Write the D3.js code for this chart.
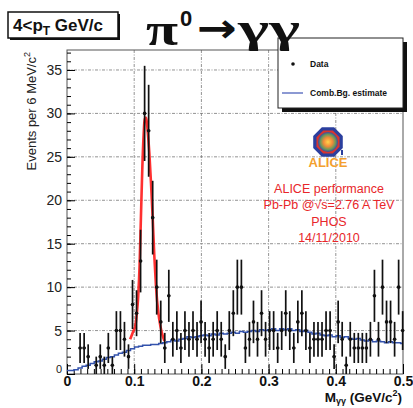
<!DOCTYPE html>
<html>
<head>
<meta charset="utf-8">
<script src="https://cdn.jsdelivr.net/npm/d3@7"></script>
<style>
  body { margin: 0; background: #fff; }
  svg { display: block; }
</style>
</head>
<body>
<div id="chart"></div>
<script>
// histogram of counts, 6 MeV bins (zero bins are not drawn)
var binStart = 0.0045, binWidth = 0.006;
var counts = [0, 0, 3, 3, 2, 0, 1, 2, 1, 3, 1, 5, 5, 4, 2, 8, 7, 13, 30, 28,
  18, 10, 6, 3, 9, 4, 5, 3, 5, 4, 5, 4, 6, 4, 3, 4, 5, 4, 2, 5,
  7, 10, 10, 3, 4, 6, 4, 7, 4, 5, 5, 3, 5, 7, 5, 3, 6, 7, 5, 3,
  4, 4, 4, 5, 5, 2, 6, 4, 1, 4, 3, 3, 3, 3, 4, 9, 4, 10, 6, 6,
  4, 10, 5];
// combinatorial background estimate, same bins
var bgEstimate = [0.4, 0.5, 0.7, 0.9, 1.0, 1.2, 1.4, 1.5, 1.7, 1.9, 2.0, 2.2, 2.4, 2.5, 2.7, 2.9, 3.1, 3.2, 3.3, 3.3,
  3.4, 3.4, 3.5, 3.6, 3.7, 3.9, 3.8, 4.0, 4.1, 4.3, 4.2, 4.3, 4.4, 4.5, 4.4, 4.6, 4.5, 4.7, 4.6, 4.7,
  4.8, 4.7, 4.9, 4.8, 4.9, 5.0, 4.9, 5.1, 5.0, 5.1, 5.2, 5.0, 5.2, 5.1, 5.2, 5.0, 5.1, 4.9, 5.0, 4.8,
  4.6, 4.7, 4.5, 4.4, 4.5, 4.3, 4.4, 4.2, 4.3, 4.1, 4.0, 4.1, 3.9, 3.8, 3.9, 3.7, 3.8, 3.7, 3.6, 3.7,
  3.6, 3.6, 3.5];
// peak fit curve
var fitX = [0.094, 0.098, 0.1015, 0.104, 0.106, 0.108, 0.110, 0.112, 0.114, 0.116, 0.118,
  0.120, 0.1225, 0.125, 0.1275, 0.130, 0.1325, 0.136, 0.139, 0.142, 0.145];
var fitY = [4.0, 4.8, 5.5, 7.0, 9.0, 12.5, 18.0, 23.5, 27.5, 29.5, 29.5,
  28.0, 25.5, 22.0, 18.0, 13.5, 10.0, 7.0, 5.5, 4.5, 3.8];
var xTicks = [0, 0.1, 0.2, 0.3, 0.4, 0.5];
var yTicks = [0, 5, 10, 15, 20, 25, 30, 35];
var infoLines = ["ALICE performance", "Pb-Pb @\u221As=2.76 A TeV", "PHOS", "14/11/2010"];

var W = 413, H = 408;
var pad = {left: 67, right: 403, top: 50, bottom: 374};

var svg = d3.select("#chart").append("svg")
  .attr("width", W).attr("height", H)
  .style("font-family", "'Liberation Sans', Arial, sans-serif");

var x = d3.scaleLinear().domain([0, 0.5]).range([pad.left, pad.right]);
var y = d3.scaleLinear().domain([0, 37.3]).range([pad.bottom, pad.top]);

// grid
var grid = svg.append("g").attr("stroke", "#777").attr("stroke-width", 0.8)
  .attr("stroke-dasharray", "3,1.5,1,1.5");
xTicks.slice(1, -1).forEach(function(t) {
  grid.append("line").attr("x1", x(t)).attr("x2", x(t)).attr("y1", pad.top).attr("y2", pad.bottom);
});
yTicks.slice(1).forEach(function(t) {
  grid.append("line").attr("x1", pad.left).attr("x2", pad.right).attr("y1", y(t)).attr("y2", y(t));
});

// frame
svg.append("rect").attr("x", pad.left).attr("y", pad.top)
  .attr("width", pad.right - pad.left).attr("height", pad.bottom - pad.top)
  .attr("fill", "none").attr("stroke", "#555").attr("stroke-width", 1);

// axes
var yMinor = d3.range(0, 38, 1);
svg.append("g").attr("transform", "translate(" + pad.left + ",0)")
  .call(d3.axisLeft(y).tickValues(yMinor).tickSize(-4).tickFormat(""))
  .call(function(g) { g.select(".domain").remove(); });
svg.append("g").attr("transform", "translate(" + pad.left + ",0)")
  .call(d3.axisLeft(y).tickValues(yTicks).tickSize(-8).tickPadding(5))
  .call(function(g) {
    g.select(".domain").remove();
    g.selectAll("text").attr("font-size", 14).attr("fill", "#222")
      .attr("font-family", "'Liberation Sans', Arial, sans-serif");
    g.selectAll("text").filter(function(d) { return d === 0; })
      .attr("font-size", 11).attr("dy", "-0.1em");
  });

var xMinor = d3.range(0, 0.501, 0.01);
svg.append("g").attr("transform", "translate(0," + pad.bottom + ")")
  .call(d3.axisBottom(x).tickValues(xMinor).tickSize(-5).tickFormat(""))
  .call(function(g) { g.select(".domain").remove(); });
svg.append("g").attr("transform", "translate(0," + pad.bottom + ")")
  .call(d3.axisBottom(x).tickValues(xTicks).tickSize(-10).tickPadding(2)
    .tickFormat(function(d) { return d === 0 ? "0" : d3.format(".1f")(d); }))
  .call(function(g) {
    g.select(".domain").remove();
    g.selectAll("text").attr("font-size", 14).attr("font-weight", "bold").attr("fill", "#111")
      .attr("font-family", "'Liberation Sans', Arial, sans-serif");
  });

// axis titles
var xt = svg.append("text").attr("x", 402).attr("y", 402).attr("text-anchor", "end")
  .attr("font-size", 13.5).attr("font-weight", "bold").attr("fill", "#111");
xt.append("tspan").text("M");
xt.append("tspan").attr("font-size", 9).attr("dy", 2).text("\u03B3\u03B3");
xt.append("tspan").attr("dy", -2).text(" (GeV/c");
xt.append("tspan").attr("font-size", 9).attr("dy", -6).text("2");
xt.append("tspan").attr("dy", 6).text(")");

var yt = svg.append("text").attr("transform", "translate(36,52) rotate(-90)")
  .attr("text-anchor", "end").attr("font-size", 13).attr("fill", "#222");
yt.append("tspan").text("Events per 6 MeV/c");
yt.append("tspan").attr("font-size", 9).attr("dy", -6).text("2");

// background estimate (step line)
var edges = counts.map(function(c, i) { return binStart + binWidth * i; });
var stepPts = bgEstimate.map(function(v, i) { return [edges[i], v]; });
stepPts.unshift([0, bgEstimate[0]]);
stepPts.push([binStart + binWidth * counts.length, bgEstimate[bgEstimate.length - 1]]);
svg.append("path").datum(stepPts)
  .attr("fill", "none").attr("stroke", "#3352ac").attr("stroke-width", 1.5)
  .attr("d", d3.line().curve(d3.curveStepAfter)
    .x(function(d) { return x(Math.min(d[0], 0.5)); }).y(function(d) { return y(d[1]); }));

// fit
var fitPts = fitX.map(function(v, i) { return [v, fitY[i]]; });
svg.append("path").datum(fitPts)
  .attr("fill", "none").attr("stroke", "#ff1a1a").attr("stroke-width", 2.6)
  .attr("stroke-linejoin", "round").attr("opacity", 0.9)
  .attr("d", d3.line().curve(d3.curveMonotoneX)
    .x(function(d) { return x(d[0]); }).y(function(d) { return y(d[1]); }));

// data points with sqrt(N) errors
var pts = counts.map(function(c, i) {
  return { c: c, m: binStart + binWidth * (i + 0.5) };
}).filter(function(d) { return d.c > 0; });
var dg = svg.append("g").attr("stroke", "#111");
dg.selectAll("line.err").data(pts).enter().append("line").attr("class", "err")
  .attr("x1", function(d) { return x(d.m); }).attr("x2", function(d) { return x(d.m); })
  .attr("y1", function(d) { return y(Math.max(0, d.c - Math.sqrt(d.c))); })
  .attr("y2", function(d) { return y(d.c + Math.sqrt(d.c)); })
  .attr("stroke-width", 1.7);
dg.selectAll("line.hw").data(pts).enter().append("line").attr("class", "hw")
  .attr("x1", function(d) { return x(d.m - binWidth / 2) + 0.5; })
  .attr("x2", function(d) { return x(d.m + binWidth / 2) - 0.5; })
  .attr("y1", function(d) { return y(d.c); }).attr("y2", function(d) { return y(d.c); })
  .attr("stroke-width", 1.2);
dg.selectAll("circle").data(pts).enter().append("circle")
  .attr("cx", function(d) { return x(d.m); }).attr("cy", function(d) { return y(d.c); })
  .attr("r", 1.8).attr("fill", "#111").attr("stroke", "none");

// legend
svg.append("rect").attr("x", 282).attr("y", 42).attr("width", 125).attr("height", 70).attr("fill", "#111");
svg.append("rect").attr("x", 278).attr("y", 38).attr("width", 125).attr("height", 70)
  .attr("fill", "#fff").attr("stroke", "#222").attr("stroke-width", 1);
svg.append("circle").attr("cx", 293).attr("cy", 64).attr("r", 1.8).attr("fill", "#111");
svg.append("text").attr("x", 310).attr("y", 67).attr("font-size", 8.5).attr("font-weight", "bold")
  .attr("fill", "#111").text("Data");
svg.append("line").attr("x1", 282).attr("x2", 303).attr("y1", 93).attr("y2", 93)
  .attr("stroke", "#7080c8").attr("stroke-width", 1.6);
svg.append("text").attr("x", 310).attr("y", 96).attr("font-size", 8.5).attr("font-weight", "bold")
  .attr("fill", "#111").text("Comb.Bg. estimate");

// ALICE logo
var lg = svg.append("g").attr("transform", "translate(328,142)");
function octagon(r) {
  return d3.range(8).map(function(k) {
    var a = Math.PI / 8 + k * Math.PI / 4;
    return [r * Math.cos(a), r * Math.sin(a)];
  });
}
var defs = svg.append("defs");
var rg = defs.append("radialGradient").attr("id", "burst");
rg.append("stop").attr("offset", "0%").attr("stop-color", "#ffd54a");
rg.append("stop").attr("offset", "45%").attr("stop-color", "#f08a3a");
rg.append("stop").attr("offset", "75%").attr("stop-color", "#6a9a5a");
rg.append("stop").attr("offset", "100%").attr("stop-color", "#3a4aa0");
lg.append("polygon").attr("points", octagon(16).join(" ")).attr("fill", "#2b3f9e");
lg.append("polygon").attr("points", octagon(12.5).join(" ")).attr("fill", "#d8352f");
lg.append("circle").attr("r", 10).attr("fill", "url(#burst)");
lg.append("rect").attr("x", 13).attr("y", 8).attr("width", 2).attr("height", 5).attr("fill", "#2b3f9e");
svg.append("text").attr("x", 328).attr("y", 167).attr("text-anchor", "middle")
  .attr("font-size", 13).attr("font-weight", "bold").attr("fill", "#f3a02e").text("ALICE");

svg.append("g").selectAll("text").data(infoLines).enter().append("text")
  .attr("x", 329).attr("y", function(d, i) { return 193 + i * 16.3; })
  .attr("text-anchor", "middle").attr("font-size", 12.5).attr("fill", "#e8262a")
  .text(function(d) { return d; });

// top-left kinematic box
svg.append("rect").attr("x", 10).attr("y", 14).attr("width", 110).attr("height", 26).attr("fill", "#111");
svg.append("rect").attr("x", 8).attr("y", 12).attr("width", 110).attr("height", 26)
  .attr("fill", "#fff").attr("stroke", "#111").attr("stroke-width", 1.5);
var kt = svg.append("text").attr("x", 13).attr("y", 31).attr("font-size", 17)
  .attr("font-weight", "bold").attr("fill", "#111");
kt.append("tspan").text("4<p");
kt.append("tspan").attr("font-size", 12).attr("dy", 4).text("T");
kt.append("tspan").attr("dy", -4).text(" GeV/c");

// reaction title
var serif = "'Liberation Serif', 'DejaVu Serif', serif";
svg.append("text").attr("x", 146).attr("y", 45).attr("font-family", serif)
  .attr("font-weight", "bold").attr("font-size", 46).attr("fill", "#111")
  .attr("textLength", 32).attr("lengthAdjust", "spacingAndGlyphs").text("\u03C0");
svg.append("text").attr("x", 180).attr("y", 26).attr("font-weight", "bold")
  .attr("font-size", 22).attr("fill", "#111").text("0");
svg.append("text").attr("x", 197).attr("y", 42).attr("font-family", "'DejaVu Sans', sans-serif")
  .attr("font-weight", "bold").attr("font-size", 40).attr("fill", "#111")
  .attr("textLength", 40).attr("lengthAdjust", "spacingAndGlyphs").text("\u2192");
svg.append("text").attr("x", 238).attr("y", 42).attr("font-family", serif)
  .attr("font-weight", "bold").attr("font-size", 40).attr("fill", "#111")
  .attr("textLength", 62).attr("lengthAdjust", "spacingAndGlyphs").text("\u03B3\u03B3");
</script>
</body>
</html>
